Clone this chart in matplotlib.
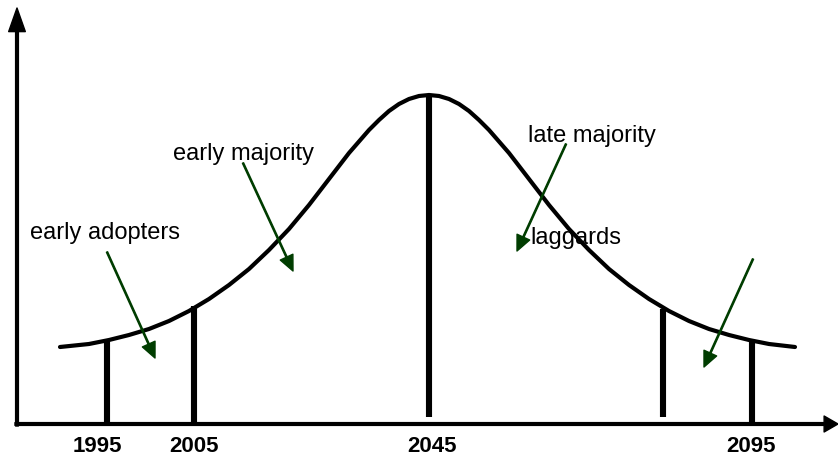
import matplotlib
matplotlib.use("Agg")
import matplotlib.pyplot as plt

plt.rcParams['font.family'] = ['Liberation Sans', 'DejaVu Sans']

# Bell curve (position along time axis, height above baseline)
curve_x = [60, 89, 109, 129, 149, 169, 189, 209, 229, 249, 269, 289, 309, 329, 349,
           369, 379, 389, 399, 409, 419, 429, 439, 449, 459, 469, 479, 489, 509, 529,
           549, 569, 589, 609, 629, 649, 669, 689, 709, 729, 749, 769, 795]
curve_h = [77, 80, 84, 89, 95, 103, 113, 125, 139, 155, 174, 195, 219, 245, 271,
           294, 304, 313, 320, 325, 328, 329, 328, 325, 320, 313, 304, 294, 271, 245,
           219, 195, 174, 155, 139, 125, 113, 103, 95, 89, 84, 80, 77]

# Vertical divider bars
bar_x = [107, 194, 429, 663, 752]
bar_top = [83, 118, 329, 115, 82]
bar_bottom = [2, 2, 7, 7, 2]

# Year labels under the axis
year_labels = ['1995', '2005', '2045', '2095']
year_x = [97, 194, 432, 751]

# Category labels and their arrows
cat_labels = ['early adopters', 'early majority', 'late majority', 'laggards']
cat_pos = [(30, 185), (173, 264), (528, 282), (530, 180)]
arrow_from = [(107, 172), (243, 261), (566, 280), (753, 165)]
arrow_to = [(155, 66), (293, 153), (517, 173), (704, 57)]

fig = plt.figure(figsize=(8.38, 4.57), dpi=100)
ax = fig.add_axes([0, 0, 1, 1])
ax.set_xlim(0, 838)
ax.set_ylim(-33, 424)
ax.axis('off')

# Axes with arrow heads
ax.annotate('', xy=(17, 416), xytext=(17, -2),
            arrowprops=dict(width=2.0, headwidth=12, headlength=17,
                            facecolor='black', edgecolor='black', shrink=0),
            annotation_clip=False)
ax.annotate('', xy=(838, 0), xytext=(15, 0),
            arrowprops=dict(width=2.0, headwidth=11.5, headlength=10,
                            facecolor='black', edgecolor='black', shrink=0),
            annotation_clip=False)

# Curve
ax.plot(curve_x, curve_h, color='black', lw=3.0, solid_capstyle='round',
        solid_joinstyle='round', zorder=3)

# Bars
ax.vlines(bar_x, bar_bottom, bar_top, colors='black', lw=4.4, zorder=3)

# Year labels
for lab, x in zip(year_labels, year_x):
    ax.text(x, -28, lab, ha='center', va='baseline', fontsize=16,
            fontweight='bold', color='black')

# Category labels
for lab, (x, y) in zip(cat_labels, cat_pos):
    ax.text(x, y, lab, ha='left', va='baseline', fontsize=17, color='black', zorder=4)

# Green arrows
for (x0, y0), (x1, y1) in zip(arrow_from, arrow_to):
    ax.annotate('', xy=(x1, y1), xytext=(x0, y0),
                arrowprops=dict(width=0.9, headwidth=10, headlength=11,
                                facecolor='#003d00', edgecolor='#003d00', shrink=0),
                zorder=5)

fig.savefig('out.png', dpi=100)
